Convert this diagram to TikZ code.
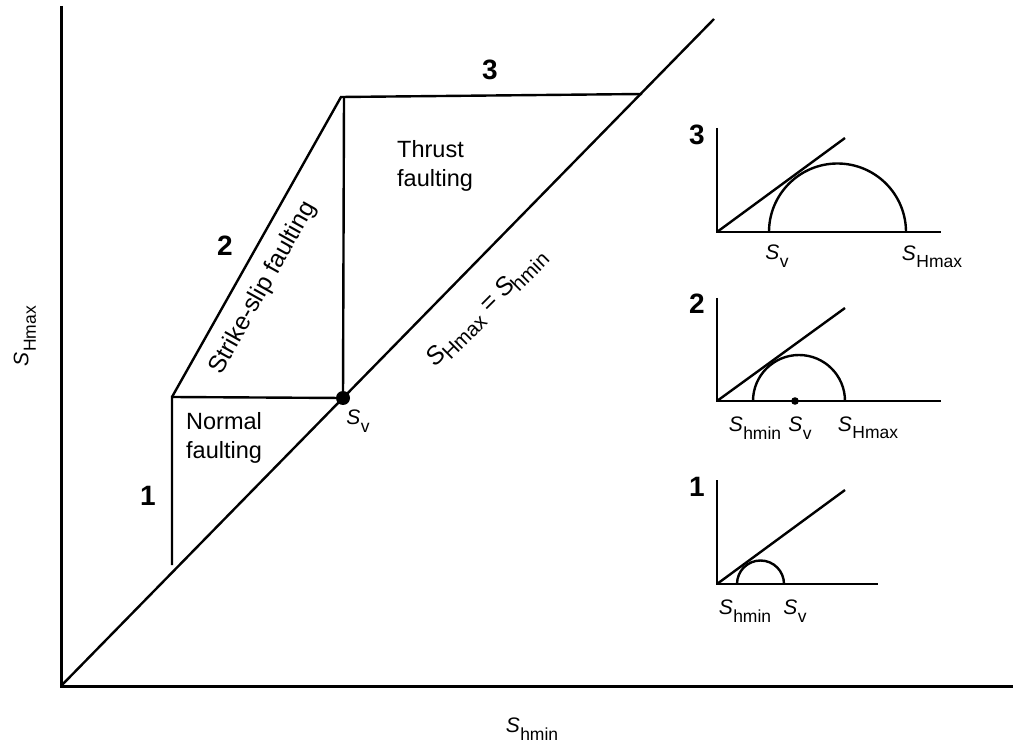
\documentclass[tikz,border=0pt]{standalone}
\usepackage{fontspec}
\setmainfont{Liberation Sans}
\newcommand{\Slab}[1]{\fontsize{21}{24}\selectfont\textit{S}\kern0.02em\raisebox{-7.5pt}{\fontsize{17.5}{18}\selectfont #1}}
\newcommand{\Sbig}[1]{\fontsize{25}{28}\selectfont\textit{S}\kern-0.06em\raisebox{-6pt}{\fontsize{20.5}{22}\selectfont #1}}
\begin{document}
\begin{tikzpicture}[x=1pt,y=-1pt,
  axis/.style={line width=3pt},
  bound/.style={line width=2.4pt},
  thin/.style={line width=2.4pt},
  num/.style={font=\fontsize{28}{30}\selectfont\bfseries, inner sep=0pt},
  txt/.style={font=\fontsize{23.5}{29}\selectfont, inner sep=0pt, align=left},
  lab/.style={inner sep=0pt}]
\useasboundingbox (0,0) rectangle (1013,751);
% main axes
\coordinate (O) at (61,686);
\coordinate (Ytop) at (61,6);
\coordinate (Xend) at (1013,686);
\coordinate (Dend) at (714,19);
\draw[axis] (Ytop) -- (O) -- (Xend);
\draw[bound] (O) -- (Dend);
% region boundaries
\coordinate (N1) at (172,565);
\coordinate (N2) at (172,397);
\coordinate (SV) at (343,398);
\coordinate (T1) at (341,97);
\coordinate (T2) at (344,97);
\coordinate (T3) at (642,94);
\draw[bound] (N1) -- (N2) -- (SV);
\draw[bound] (N2) -- (T1) -- (T3);
\draw[bound] (T2) -- (SV);
\fill (SV) circle (7);
% labels main
\node[num] (n3) at (490,70) {3};
\node[num] (n2) at (225,246) {2};
\node[num] (n1) at (148,496) {1};
\node[txt, anchor=west] (thrust) at (397,166) {Thrust\\faulting};
\node[txt, anchor=west] (normal) at (186,438) {Normal\\faulting};
\node[txt, rotate=60.75, font=\fontsize{24.5}{29}\selectfont] (ss) at (263,288) {Strike-slip faulting};
\node[lab, rotate=45] (eq) at (487,308) {\Sbig{Hmax}\fontsize{25}{28}\selectfont{} = \Sbig{hmin}};
\node[lab] (svl) at (358,421) {\Slab{v}};
\node[lab, rotate=90] (yl) at (25,336) {\Slab{Hmax}};
\node[lab] (xl) at (532,729) {\Slab{hmin}};
% inset 3
\coordinate (a3) at (717,232);
\coordinate (a3t) at (717,128);
\coordinate (a3r) at (941,232);
\coordinate (a3l) at (845,138);
\coordinate (c3) at (769,232);
\draw[thin] (a3t) -- (a3) -- (a3r);
\draw[thin] (a3) -- (a3l);
\draw[thin] (c3) arc[start angle=180, end angle=360, radius=68.5];
\node[num] (i3) at (697,135) {3};
\node[lab] (i3a) at (777,256) {\Slab{v}};
\node[lab] (i3b) at (932,257) {\Slab{Hmax}};
% inset 2
\coordinate (a2) at (717,401);
\coordinate (a2t) at (717,298);
\coordinate (a2r) at (941,401);
\coordinate (a2l) at (845,308);
\coordinate (c2) at (753,401);
\coordinate (d2) at (795,401);
\draw[thin] (a2t) -- (a2) -- (a2r);
\draw[thin] (a2) -- (a2l);
\draw[thin] (c2) arc[start angle=180, end angle=360, radius=46];
\fill (d2) circle (3.8);
\node[num] (i2) at (697,304) {2};
\node[lab] (i2a) at (755,428) {\Slab{hmin}};
\node[lab] (i2b) at (800,428) {\Slab{v}};
\node[lab] (i2c) at (868,428) {\Slab{Hmax}};
% inset 1
\coordinate (a1) at (717,584);
\coordinate (a1t) at (717,480);
\coordinate (a1r) at (878,584);
\coordinate (a1l) at (845,490);
\coordinate (c1) at (737,584);
\draw[thin] (a1t) -- (a1) -- (a1r);
\draw[thin] (a1) -- (a1l);
\draw[thin] (c1) arc[start angle=180, end angle=360, radius=23.5];
\node[num] (i1) at (697,487) {1};
\node[lab] (i1a) at (745,611) {\Slab{hmin}};
\node[lab] (i1b) at (795,611) {\Slab{v}};
\end{tikzpicture}
\end{document}
